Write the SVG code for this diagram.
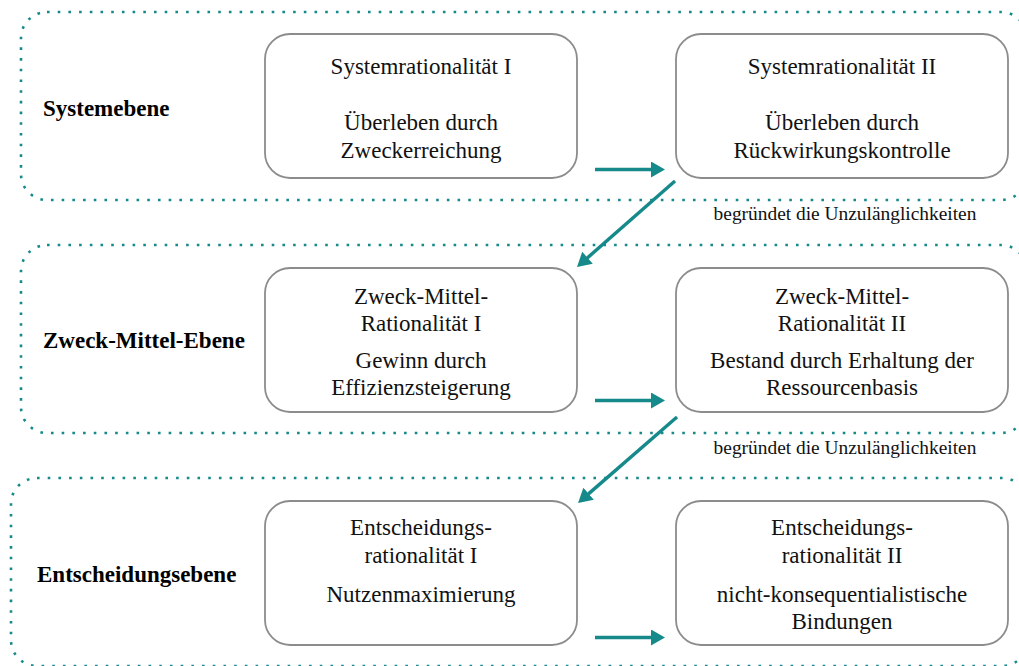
<svg xmlns="http://www.w3.org/2000/svg" width="1019" height="666" viewBox="0 0 1019 666">
  <style>
    .panel { fill: none; stroke: #16898b; stroke-width: 2.6; stroke-dasharray: 2.6 8.1; }
    .box { fill: #ffffff; stroke: #8c8c8c; stroke-width: 1.8; }
    .t { font-family: "Liberation Serif", "Times New Roman", serif; font-size: 23px; fill: #111111; text-anchor: middle; }
    .lvl { font-family: "Liberation Serif", "Times New Roman", serif; font-size: 23px; font-weight: bold; fill: #000000; }
    .note { font-family: "Liberation Serif", "Times New Roman", serif; font-size: 19.4px; fill: #111111; text-anchor: middle; }
    .arrow { fill: none; stroke: #16898b; stroke-width: 3.4; marker-end: url(#head); }
  </style>
  <defs>
    <marker id="head" viewBox="0 0 14 16" refX="4" refY="8" markerWidth="14" markerHeight="16" markerUnits="userSpaceOnUse" orient="auto">
      <path d="M0,0 L14,8 L0,16 z" fill="#16898b"/>
    </marker>
  </defs>

  <rect width="1019" height="666" fill="#ffffff"/>

  <!-- level panels (dotted frames) -->
  <g id="levels">
    <g id="level-system">
      <rect class="panel" x="21" y="12" width="1006" height="188" rx="26" ry="26"/>
      <text class="lvl" x="43" y="116">Systemebene</text>
    </g>
    <g id="level-zweck-mittel">
      <rect class="panel" x="21" y="245" width="1006" height="188" rx="26" ry="26"/>
      <text class="lvl" x="43" y="348">Zweck-Mittel-Ebene</text>
    </g>
    <g id="level-entscheidung">
      <rect class="panel" x="11" y="478" width="1017" height="188" rx="26" ry="26"/>
      <text class="lvl" x="37" y="582">Entscheidungsebene</text>
    </g>
  </g>

  <!-- nodes -->
  <g id="sys-1">
    <rect class="box" x="265" y="34" width="312" height="144" rx="25" ry="25"/>
    <text class="t" x="421" y="74">Systemrationalität I</text>
    <text class="t" x="421" y="130">Überleben durch</text>
    <text class="t" x="421" y="158">Zweckerreichung</text>
  </g>
  <g id="sys-2">
    <rect class="box" x="676" y="34" width="332" height="144" rx="25" ry="25"/>
    <text class="t" x="842" y="74">Systemrationalität II</text>
    <text class="t" x="842" y="130">Überleben durch</text>
    <text class="t" x="842" y="158">Rückwirkungskontrolle</text>
  </g>
  <g id="zm-1">
    <rect class="box" x="265" y="268" width="312" height="144" rx="25" ry="25"/>
    <text class="t" x="421" y="304">Zweck-Mittel-</text>
    <text class="t" x="421" y="331">Rationalität I</text>
    <text class="t" x="421" y="368">Gewinn durch</text>
    <text class="t" x="421" y="395">Effizienzsteigerung</text>
  </g>
  <g id="zm-2">
    <rect class="box" x="676" y="268" width="332" height="144" rx="25" ry="25"/>
    <text class="t" x="842" y="304">Zweck-Mittel-</text>
    <text class="t" x="842" y="331">Rationalität II</text>
    <text class="t" x="842" y="368">Bestand durch Erhaltung der</text>
    <text class="t" x="842" y="395">Ressourcenbasis</text>
  </g>
  <g id="ent-1">
    <rect class="box" x="265" y="501" width="312" height="144" rx="25" ry="25"/>
    <text class="t" x="421" y="535">Entscheidungs-</text>
    <text class="t" x="421" y="563">rationalität I</text>
    <text class="t" x="421" y="602">Nutzenmaximierung</text>
  </g>
  <g id="ent-2">
    <rect class="box" x="676" y="501" width="332" height="144" rx="25" ry="25"/>
    <text class="t" x="842" y="535">Entscheidungs-</text>
    <text class="t" x="842" y="563">rationalität II</text>
    <text class="t" x="842" y="602">nicht-konsequentialistische</text>
    <text class="t" x="842" y="629">Bindungen</text>
  </g>

  <!-- connectors -->
  <g id="connectors">
    <line class="arrow" x1="595" y1="169.5" x2="655" y2="169.5"/>
    <line class="arrow" x1="595" y1="400.5" x2="655" y2="400.5"/>
    <line class="arrow" x1="595" y1="637.5" x2="655" y2="637.5"/>
    <line class="arrow" x1="675" y1="181" x2="584.5" y2="260.4"/>
    <line class="arrow" x1="677" y1="417" x2="585.6" y2="496.4"/>
    <text class="note" x="845" y="220">begründet die Unzulänglichkeiten</text>
    <text class="note" x="845" y="454">begründet die Unzulänglichkeiten</text>
  </g>
</svg>
